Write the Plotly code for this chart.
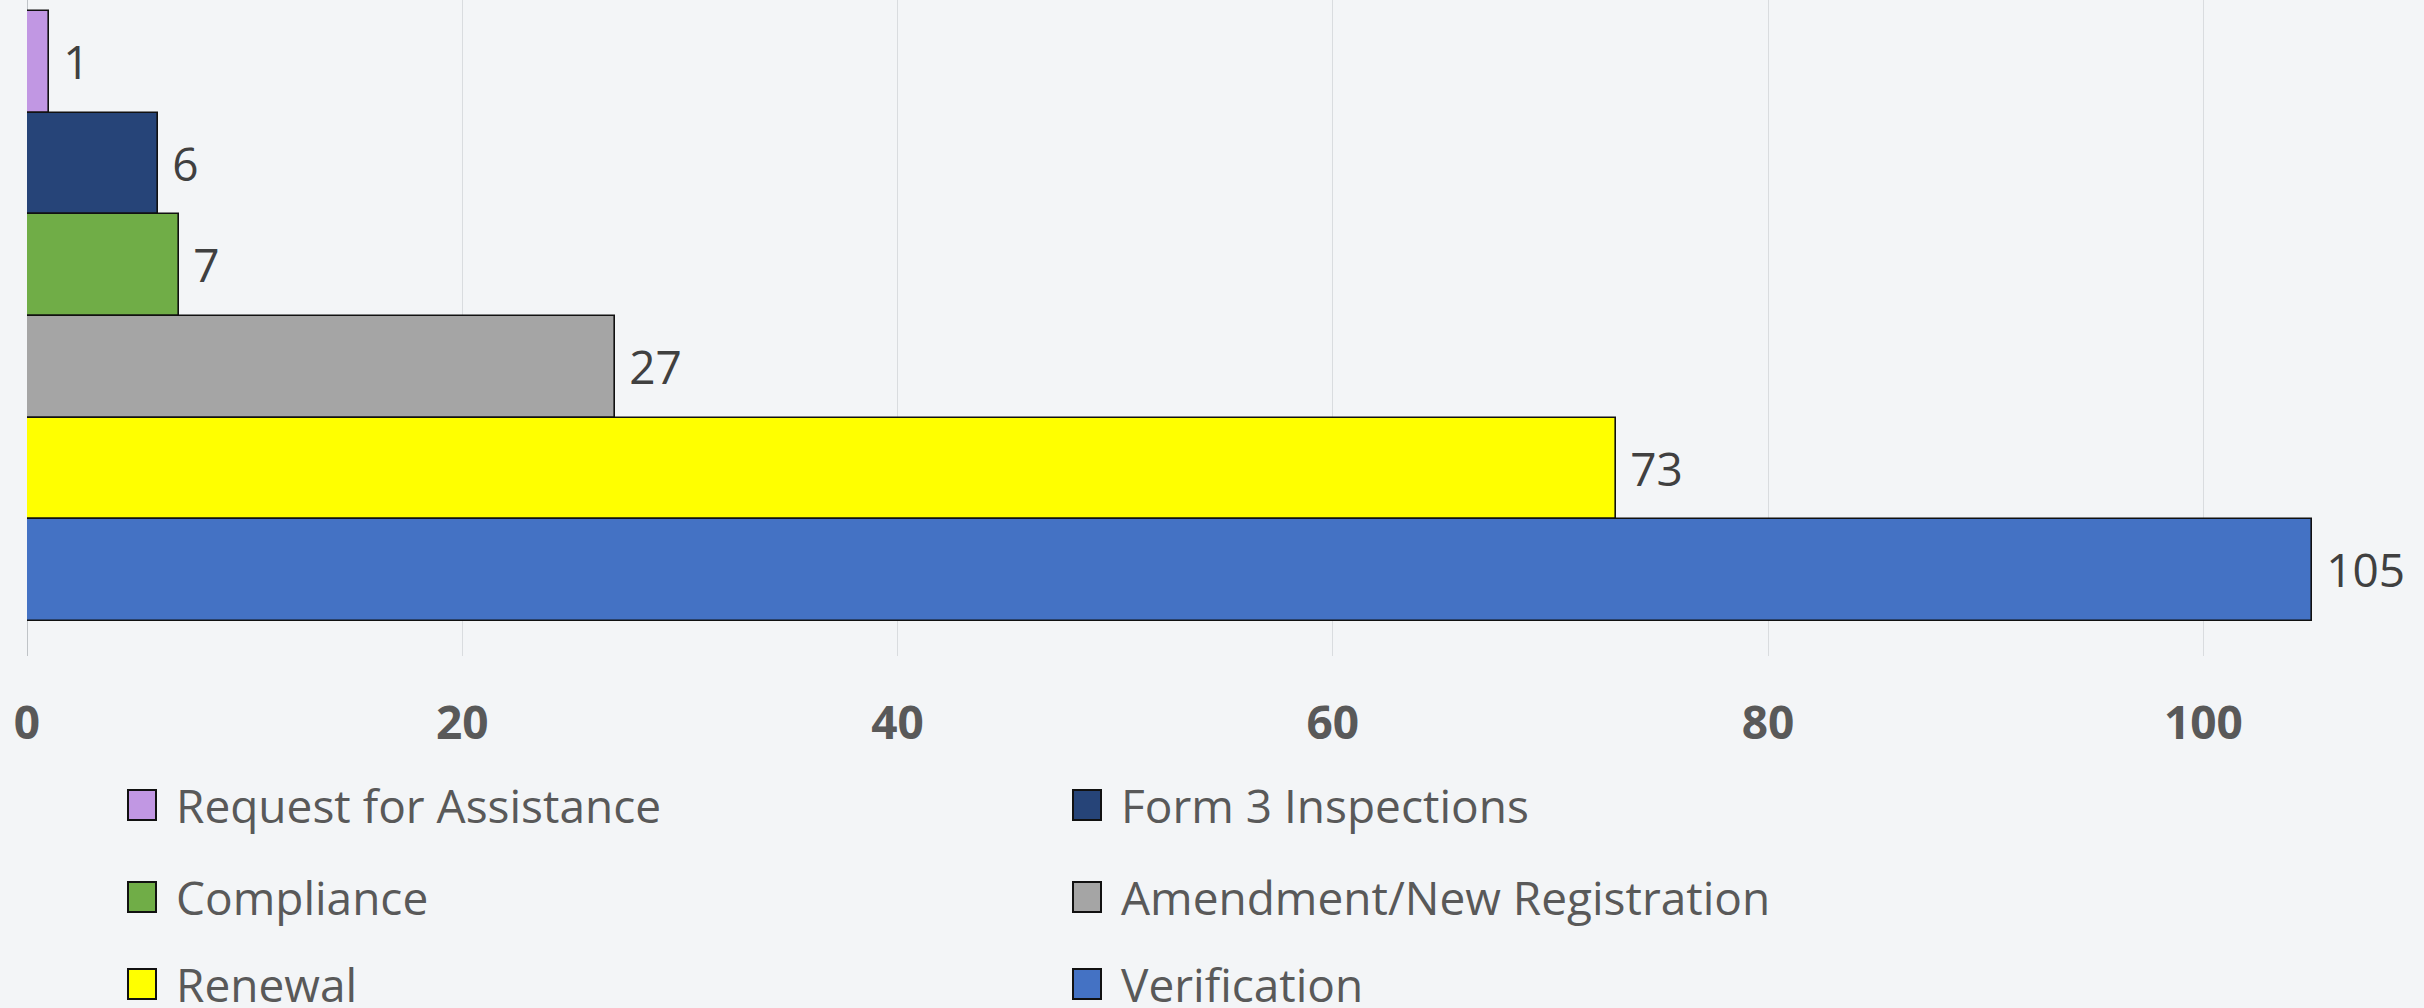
import plotly.graph_objects as go

categories = ["Request for Assistance", "Form 3 Inspections", "Compliance",
              "Amendment/New Registration", "Renewal", "Verification"]
values = [1, 6, 7, 27, 73, 105]
colors = ["#C197E3", "#264478", "#70AD47", "#A5A5A5", "#FFFF00", "#4472C4"]
tick_vals = [0, 20, 40, 60, 80, 100]

W, H = 2424, 1008
ML, MR, MT, MB = 27, 3, 0, 352
PW = W - ML - MR
PH = H - MT - MB
BG = "#F3F5F7"

FONT = "Open Sans, Noto Sans, sans-serif"

fig = go.Figure()
for cat, val, col in zip(categories, values, colors):
    fig.add_trace(go.Bar(
        x=[val], y=[cat], orientation="h", name=cat,
        marker=dict(color=col, line=dict(color="#111111", width=1.6)),
        texttemplate="\u00a0%{x}", textposition="outside",
        textfont=dict(family=FONT, size=46, color="#404040"),
        constraintext="none", cliponaxis=False, showlegend=False,
        hoverinfo="skip",
    ))

# manual legend (2 columns x 3 rows)
col_x = [128, 1073]
row_y = [805, 897, 984]
for i, (cat, col) in enumerate(zip(categories, colors)):
    cx = col_x[i % 2]
    cy = row_y[i // 2]
    x0 = (cx - ML) / PW
    x1 = (cx + 28 - ML) / PW
    y0 = (MT + PH - (cy + 15)) / PH
    y1 = (MT + PH - (cy - 15)) / PH
    fig.add_shape(type="rect", xref="paper", yref="paper",
                  x0=x0, x1=x1, y0=y0, y1=y1,
                  fillcolor=col, line=dict(color="#111111", width=2))
    fig.add_annotation(xref="paper", yref="paper",
                       x=(cx + 46 - ML) / PW, y=(MT + PH - cy) / PH,
                       xanchor="left", yanchor="middle", showarrow=False,
                       text=cat, font=dict(family=FONT, size=46, color="#595959"))

fig.update_layout(
    width=W, height=H,
    margin=dict(l=ML, r=MR, t=MT, b=MB, pad=0),
    paper_bgcolor=BG, plot_bgcolor="rgba(0,0,0,0)",
    barmode="overlay", bargap=0,
    showlegend=False,
    xaxis=dict(range=[0, 110], tickvals=tick_vals, showgrid=True,
               gridcolor="#D9DCDF", gridwidth=1.2, zeroline=True,
               zerolinecolor="#BFC3C7", zerolinewidth=1.2, showline=False,
               ticks="", ticklabelstandoff=36,
               tickfont=dict(family=FONT, size=46, color="#595959", weight="bold")),
    yaxis=dict(type="category", categoryorder="array",
               categoryarray=list(reversed(categories)),
               range=[-0.844, 5.608], showticklabels=False, showgrid=False,
               zeroline=False, showline=False, ticks=""),
)

fig.write_html(
    "out.html",
    config={"displayModeBar": False},
    post_script=("document.body.style.margin='0';"
                 "document.body.style.padding='0';"
                 "document.body.style.overflow='hidden';"
                 f"document.body.style.background='{BG}';"),
)
